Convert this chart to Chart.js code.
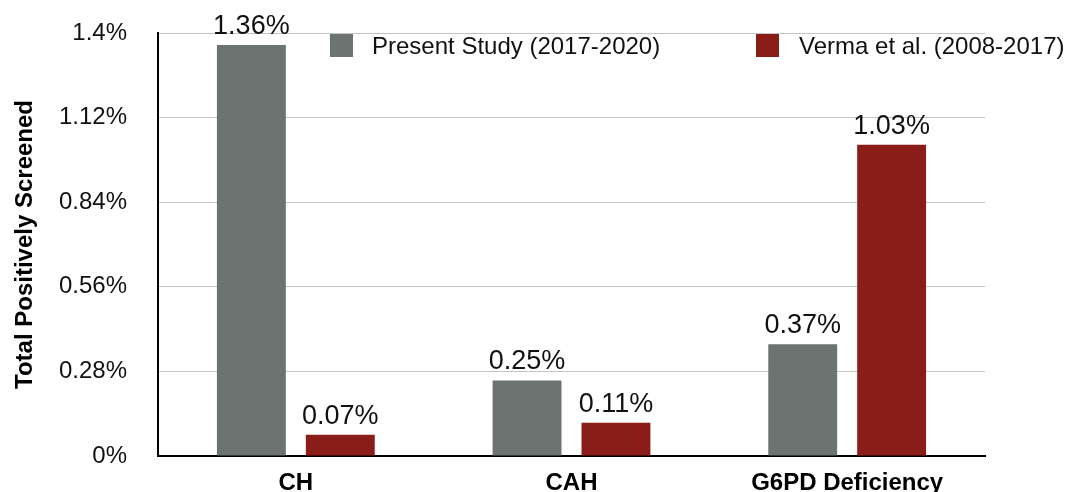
<!DOCTYPE html>
<html>
<head>
<meta charset="utf-8">
<script src="https://cdn.jsdelivr.net/npm/chart.js@4.4.1/dist/chart.umd.min.js"></script>
<style>
  html, body { margin: 0; padding: 0; background: #fff; }
  #wrap { width: 1077px; height: 492px; }
</style>
</head>
<body>
<div id="wrap"><canvas id="c" width="1077" height="492"></canvas></div>
<script>
const categories = ['CH', 'CAH', 'G6PD Deficiency'];
const presentStudy = [1.36, 0.25, 0.37];
const vermaEtAl = [0.07, 0.11, 1.03];
const seriesLabels = ['Present Study (2017-2020)', 'Verma et al. (2008-2017)'];
const yTickValues = [0, 0.28, 0.56, 0.84, 1.12, 1.4];
const yTickLabels = ['0%', '0.28%', '0.56%', '0.84%', '1.12%', '1.4%'];
const valueLabels = [['1.36%', '0.25%', '0.37%'], ['0.07%', '0.11%', '1.03%']];

const FONT = "'Liberation Sans', Arial, Helvetica, sans-serif";
const GREY = '#6d7370';
const RED = '#8b1d18';

const valueLabelPlugin = {
  id: 'valueLabels',
  afterDatasetsDraw(chart) {
    const ctx = chart.ctx;
    ctx.save();
    ctx.font = '27px ' + FONT;
    ctx.fillStyle = '#111';
    ctx.textAlign = 'center';
    ctx.textBaseline = 'alphabetic';
    chart.data.datasets.forEach((ds, di) => {
      const meta = chart.getDatasetMeta(di);
      meta.data.forEach((bar, i) => {
        ctx.fillText(valueLabels[di][i], bar.x, bar.y - 11);
      });
    });
    ctx.restore();
  }
};

const legendPlugin = {
  id: 'customLegend',
  afterDraw(chart) {
    const ctx = chart.ctx;
    const boxX = [330, 756];
    const textX = [372, 799];
    ctx.save();
    ctx.font = '24px ' + FONT;
    ctx.textBaseline = 'alphabetic';
    ctx.textAlign = 'left';
    chart.data.datasets.forEach((ds, di) => {
      ctx.fillStyle = ds.backgroundColor;
      ctx.fillRect(boxX[di], 34, 23, 23);
      ctx.fillStyle = '#111';
      ctx.fillText(ds.label, textX[di], 54);
    });
    ctx.restore();
  }
};

new Chart(document.getElementById('c'), {
  type: 'bar',
  data: {
    labels: categories,
    datasets: [
      { label: seriesLabels[0], data: presentStudy, backgroundColor: GREY,
        categoryPercentage: 0.645, barPercentage: 0.775 },
      { label: seriesLabels[1], data: vermaEtAl, backgroundColor: RED,
        categoryPercentage: 0.645, barPercentage: 0.775 }
    ]
  },
  options: {
    responsive: false,
    animation: false,
    layout: { padding: { top: 33, right: 92, left: 0, bottom: 0 } },
    plugins: {
      legend: { display: false },
      tooltip: { enabled: false },
      title: { display: false }
    },
    scales: {
      x: {
        grid: { display: false, drawTicks: false },
        border: { color: '#000', width: 2 },
        ticks: { color: '#000', font: { family: FONT, size: 24, weight: 'bold' }, padding: 13 },
        afterFit(scale) { scale.height = 36; }
      },
      y: {
        min: 0, max: 1.4,
        afterBuildTicks(scale) { scale.ticks = yTickValues.map(v => ({ value: v })); },
        ticks: {
          color: '#111',
          font: { family: FONT, size: 24 },
          padding: 0,
          callback: (v, i) => yTickLabels[i]
        },
        grid: { color: '#c4c4c4', lineWidth: 1, drawTicks: true, tickLength: 31, tickColor: 'rgba(0,0,0,0)' },
        border: { color: '#000', width: 2 },
        title: {
          display: true,
          text: 'Total Positively Screened',
          color: '#000',
          font: { family: FONT, size: 24, weight: 'bold' },
          padding: { top: 11, bottom: 0 }
        },
        afterFit(scale) { scale.width = 158; }
      }
    }
  },
  plugins: [valueLabelPlugin, legendPlugin]
});
</script>
</body>
</html>
